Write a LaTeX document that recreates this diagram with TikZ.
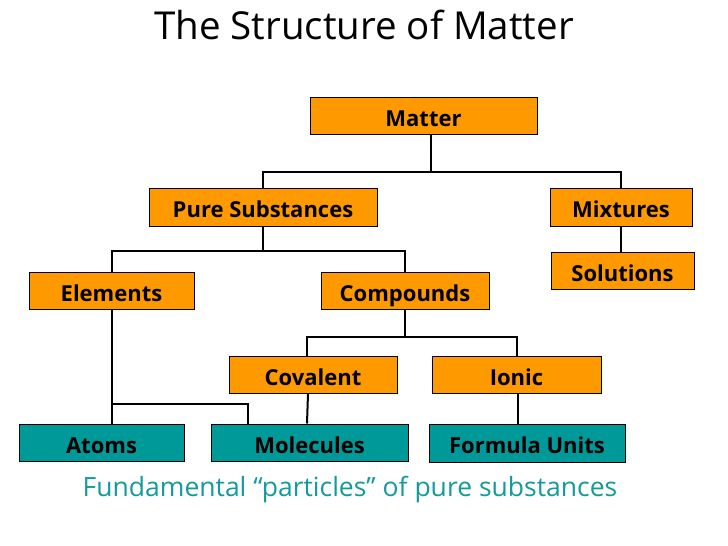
\documentclass[tikz,border=0pt]{standalone}
\usepackage{fontspec}
\setmainfont{Open Sans}
\usepackage{tikz}
\usetikzlibrary{calc}
\definecolor{BoxOrange}{HTML}{FF9900}
\definecolor{BoxTeal}{HTML}{009999}
\definecolor{NoteTeal}{HTML}{139A9A}

\begin{document}
\begin{tikzpicture}[x=1pt,y=-1pt,line width=2pt,
 every node/.style={inner sep=0pt},
 obox/.style={draw=black,line width=1pt,fill=BoxOrange,minimum height=37pt,
   text height=22pt,text depth=1pt,font=\bfseries\fontsize{22}{26}\selectfont},
 tbox/.style={obox,fill=BoxTeal}]
\useasboundingbox (0,0) rectangle (728,546);
\node[font=\fontsize{38.5}{44}\selectfont] (title) at (364,25) {The Structure of Matter};
% orange boxes
\node[obox,minimum width=227pt] (matter) at (423.5,115.5) {Matter};
\node[obox,minimum width=228pt,minimum height=38pt] (pure) at (263,207) {Pure Substances};
\node[obox,minimum width=142pt,minimum height=38pt] (mix) at (621,207) {Mixtures};
\node[obox,minimum width=143pt] (sol) at (622.5,270.5) {Solutions};
\node[obox,minimum width=165pt] (elem) at (111.5,290.5) {Elements};
\node[obox,minimum width=168pt] (comp) at (405,290.5) {Compounds};
\node[obox,minimum width=168pt] (cov) at (313,374.5) {Covalent};
\node[obox,minimum width=169pt] (ion) at (516.5,374.5) {Ionic};
% teal boxes
\node[tbox,minimum width=165pt] (atoms) at (101.5,442.5) {Atoms};
\node[tbox,minimum width=197pt] (mol) at (309.5,442.5) {Molecules};
\node[tbox,minimum width=196pt,minimum height=38pt] (fu) at (527,443) {Formula Units};
\node[text=NoteTeal,font=\fontsize{26.5}{30}\selectfont] (note) at (350,490)
  {Fundamental “particles” of pure substances};
% tree lines
\coordinate (j1) at (431,172);
\coordinate (j2) at (263,251);
\coordinate (j3) at (405,337);
\coordinate (j4) at (111.5,404);
\draw (j1 |- matter.south) -- (j1);
\draw (pure.north) |- (j1) -| (mix.north);
\draw (pure.south) -- (j2);
\draw (elem.north) |- (j2) -| (comp.north);
\draw (mix.south) -- (mix.south |- sol.north);
\draw (comp.south) -- (j3);
\draw ([xshift=-6pt]cov.north) |- (j3) -| (ion.north);
\draw (elem.south) -- (elem.south |- atoms.north);
\draw (j4) -| ([xshift=37pt]mol.north west);
\draw ([xshift=-5pt]cov.south) -- ([xshift=-2.5pt]mol.north);
\draw ([xshift=1.5pt]ion.south) -- ([xshift=1.5pt]ion.south |- fu.north);
\end{tikzpicture}
\end{document}
